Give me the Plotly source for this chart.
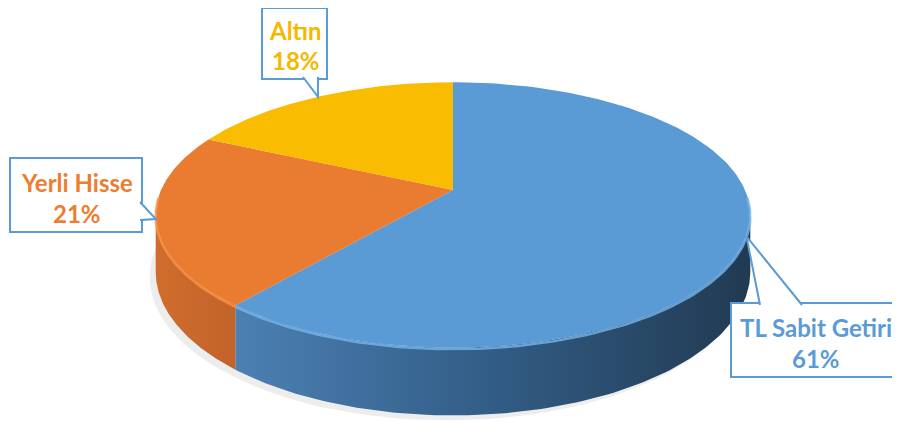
import numpy as np
import plotly.graph_objects as go

# ---- data ----
labels = ["TL Sabit Getiri", "Yerli Hisse", "Altın"]
values = [61, 21, 18]
top_colors = ["#5B9BD5", "#EA7C32", "#F9BC00"]
side_scales = [
    [[0, "#4c80b3"], [0.45, "#34608a"], [1, "#213a52"]],
    [[0, "#d06d2d"], [1, "#c2632a"]],
    [[0, "#c99800"], [1, "#b58900"]],
]
rim_colors = ["#78b6ee", "#fb9446", "#ffd24a"]
label_colors = ["#5B9BD5", "#ED7D31", "#F5B800"]

# ---- projection of a tilted disc (with mild perspective) ----
CX, CY = 453, 190
A, B, H, K = 292, 128, 55, 0.188


def proj(theta_deg, depth=0.0):
    t = np.radians(theta_deg)
    X, Z = np.cos(t), np.sin(t)
    f = 1.0 / (1.0 - K * Z)
    return CX + A * X * f, CY + (B * Z + H * depth) * f


total = sum(values)
starts, ends = [], []
acc = -90.0
for v in values:
    starts.append(acc)
    acc += v / total * 360.0
    ends.append(acc)

sil0 = np.degrees(np.arcsin(K))
sil1 = 180.0 - sil0

fig = go.Figure()

# soft shadow
th = np.linspace(0, 360, 200)
sx, sy = proj(th, 1.0)
fig.add_trace(go.Scatter(x=sx - 6, y=sy + 5, fill="toself", mode="lines",
                         line=dict(width=0), fillcolor="rgba(0,0,0,0.07)",
                         hoverinfo="skip", showlegend=False))

# side walls
for i in range(len(values)):
    a0, a1 = max(starts[i], sil0), min(ends[i], sil1)
    if a1 <= a0:
        continue
    t = np.linspace(a0, a1, 120)
    tx, ty = proj(t, 0.0)
    bx, by = proj(t[::-1], 1.0)
    fig.add_trace(go.Scatter(
        x=np.concatenate([tx, bx]), y=np.concatenate([ty, by]),
        fill="toself", mode="lines", line=dict(width=0),
        fillgradient=dict(type="horizontal", colorscale=side_scales[i]),
        hoverinfo="skip", showlegend=False))

# top sectors
for i in range(len(values)):
    t = np.linspace(starts[i], ends[i], 200)
    ax_, ay_ = proj(t, 0.0)
    fig.add_trace(go.Scatter(
        x=np.concatenate([[CX], ax_, [CX]]), y=np.concatenate([[CY], ay_, [CY]]),
        fill="toself", mode="lines", line=dict(width=0),
        fillcolor=top_colors[i], name=labels[i],
        hovertemplate=f"{labels[i]}: {values[i]}%<extra></extra>", showlegend=False))

# rim highlight on the front edge
for i in range(len(values)):
    a0, a1 = max(starts[i], sil0 - 8), min(ends[i], sil1 + 8)
    if a1 <= a0:
        continue
    t = np.linspace(a0, a1, 120)
    rx, ry = proj(t, 0.0)
    fig.add_trace(go.Scatter(x=rx, y=ry + 1.5, mode="lines",
                             line=dict(color=rim_colors[i], width=2.5),
                             opacity=0.8, hoverinfo="skip", showlegend=False))

# ---- callouts ----
boxes = [
    dict(x0=731, x1=898, y0=303, y1=377, base=("top", 760, 802), l1=327, l2=358),
    dict(x0=10, x1=142, y0=158, y1=232, base=("right", 202, 220), l1=182, l2=213),
    dict(x0=262, x1=327, y0=8, y1=79, base=("bottom", 303, 318), l1=30, l2=60),
]
shapes = []
annotations = []
BLUE = "#5B9BD5"
for i, b in enumerate(boxes):
    mid = (starts[i] + ends[i]) / 2.0
    tipx, tipy = proj(mid, 0.0)
    shapes.append(dict(type="rect", xref="x", yref="y", x0=b["x0"], x1=b["x1"],
                       y0=b["y0"], y1=b["y1"], line=dict(color=BLUE, width=2),
                       fillcolor="white", layer="above"))
    side, p, q = b["base"]
    if side == "top":
        pts = [(p, b["y0"] + 2), (tipx, tipy), (q, b["y0"] + 2)]
    elif side == "right":
        pts = [(b["x1"] - 2, p), (tipx, tipy), (b["x1"] - 2, q)]
    else:
        pts = [(p, b["y1"] - 2), (tipx, tipy), (q, b["y1"] - 2)]
    path = "M {} {} L {} {} L {} {}".format(*[c for pt in pts for c in pt])
    shapes.append(dict(type="path", xref="x", yref="y", path=path,
                       line=dict(color=BLUE, width=2), fillcolor="white", layer="above"))
    cx = (b["x0"] + b["x1"]) / 2.0 + 1
    for txt, yy in ((labels[i], b["l1"]), (f"{values[i]}%", b["l2"])):
        annotations.append(dict(x=cx, y=yy, xref="x", yref="y", text=f"<b>{txt}</b>",
                                showarrow=False, xanchor="center", yanchor="middle",
                                font=dict(family="Lato", size=24, color=label_colors[i])))

# the page body adds an 8px margin, so the axis ranges are offset to keep
# axis units equal to screen pixels
fig.update_layout(
    width=900, height=423,
    margin=dict(l=0, r=0, t=0, b=0),
    paper_bgcolor="white", plot_bgcolor="white",
    xaxis=dict(range=[8, 908], visible=False, fixedrange=True),
    yaxis=dict(range=[431, 8], visible=False, fixedrange=True),
    shapes=shapes, annotations=annotations, showlegend=False,
)

fig.write_html("out.html")
